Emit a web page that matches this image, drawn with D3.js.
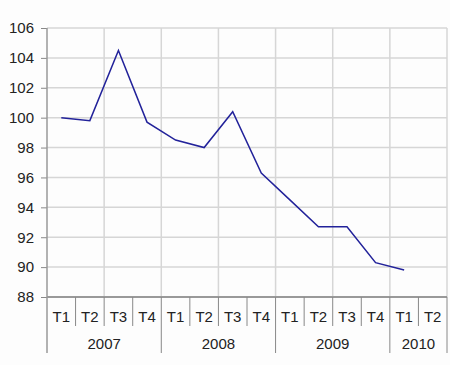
<!DOCTYPE html>
<html><head><meta charset="utf-8">
<script src="https://cdn.jsdelivr.net/npm/d3@7"></script>
<style>body{margin:0;background:#fff}svg{display:block}</style>
</head><body>
<svg id="c" width="450" height="365"></svg>
<script>
const quarters = ["T1","T2","T3","T4","T1","T2","T3","T4","T1","T2","T3","T4","T1","T2"];
const years = ["2007","2007","2007","2007","2008","2008","2008","2008","2009","2009","2009","2009","2010","2010"];
const values = [100.0, 99.8, 104.5, 99.7, 98.5, 98.0, 100.4, 96.3, 94.5, 92.7, 92.7, 90.3, 89.8, null];
const yTicks = [88, 90, 92, 94, 96, 98, 100, 102, 104, 106];

const svg = d3.select("#c");
const L = 47, R = 447, T = 28, B = 297;
svg.append("rect").attr("width",450).attr("height",365).attr("fill","#fdfdfd");

const idx = d3.range(quarters.length);
const x = d3.scaleBand().domain(idx).range([L, R]).padding(0);
const y = d3.scaleLinear().domain([88, 106]).range([B, T]);

const grid = "#d6d6d6";
const font = "Liberation Sans, Arial, sans-serif";
const fs = 15;
// horizontal grid
svg.append("g").selectAll("line").data(yTicks.filter(v => v > 88)).join("line")
  .attr("x1", L).attr("x2", R).attr("y1", d => y(d)).attr("y2", d => y(d))
  .attr("stroke", grid).attr("stroke-width", 1.5);
// vertical grid every two categories
svg.append("g").selectAll("line").data(idx.filter(i => i % 2 === 0 && i > 0).concat([quarters.length])).join("line")
  .attr("x1", d => d < quarters.length ? x(d) : R).attr("x2", d => d < quarters.length ? x(d) : R)
  .attr("y1", T).attr("y2", B).attr("stroke", grid).attr("stroke-width", 1.5);

// y axis
const yAxis = d3.axisLeft(y).tickValues(yTicks).tickSize(6).tickPadding(7);
const ga = svg.append("g").attr("transform", `translate(${L},0)`).call(yAxis);
ga.select(".domain").remove();
ga.selectAll(".tick line").attr("stroke", "#888");
ga.selectAll(".tick text").attr("font-family", font)
  .attr("font-size", fs).attr("fill", "#222");

// axis lines
svg.append("line").attr("x1", L).attr("x2", L).attr("y1", T).attr("y2", 353)
  .attr("stroke", "#999").attr("stroke-width", 1.5);
svg.append("line").attr("x1", L).attr("x2", R).attr("y1", B).attr("y2", B)
  .attr("stroke", "#999").attr("stroke-width", 2);

// category separators
idx.slice(1).forEach(i => {
  const yearBreak = years[i] !== years[i-1];
  svg.append("line").attr("x1", x(i)).attr("x2", x(i)).attr("y1", B).attr("y2", yearBreak ? 353 : 326)
    .attr("stroke", "#888").attr("stroke-width", 1);
});
svg.append("line").attr("x1", R).attr("x2", R).attr("y1", B).attr("y2", 353)
  .attr("stroke", "#888").attr("stroke-width", 1);

svg.append("g").selectAll("text").data(idx).join("text")
  .attr("x", i => x(i) + x.bandwidth()/2).attr("y", 322)
  .attr("text-anchor", "middle").attr("font-family", font).attr("font-size", fs).attr("fill", "#222")
  .text(i => quarters[i]);

const yearGroups = d3.groups(idx, i => years[i]);
svg.append("g").selectAll("text").data(yearGroups).join("text")
  .attr("x", d => (x(d[1][0]) + x(d[1][d[1].length-1]) + x.bandwidth())/2).attr("y", 349)
  .attr("text-anchor", "middle").attr("font-family", font).attr("font-size", fs).attr("fill", "#222")
  .text(d => d[0]);

// line
const line = d3.line().defined(i => values[i] != null)
  .x(i => x(i) + x.bandwidth()/2).y(i => y(values[i]));
svg.append("path").datum(idx).attr("d", line).attr("fill", "none")
  .attr("stroke", "#22229a").attr("stroke-width", 1.5).attr("stroke-linejoin", "miter");
</script>
</body></html>
